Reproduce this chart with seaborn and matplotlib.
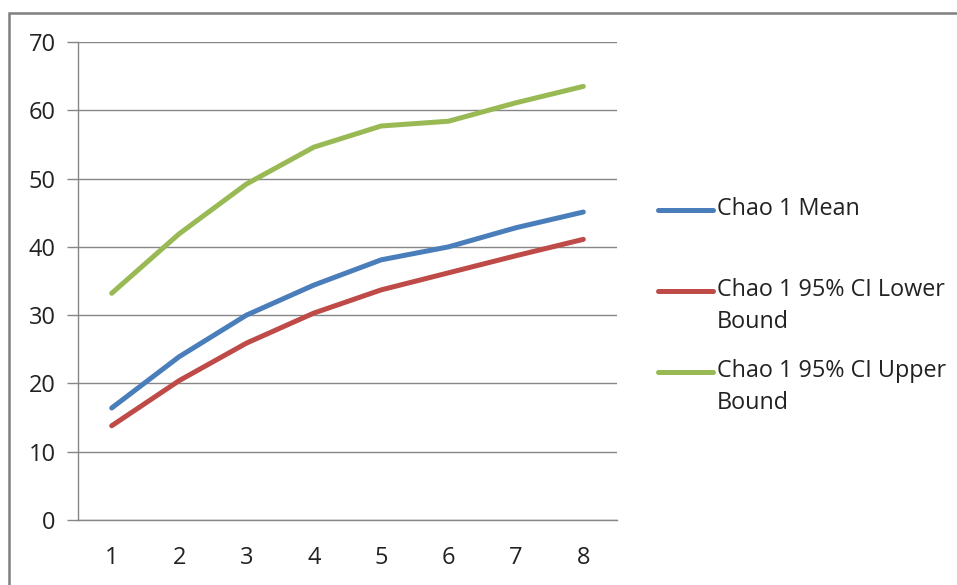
import pandas as pd
import matplotlib
matplotlib.use("Agg")
import matplotlib.pyplot as plt
import seaborn as sns
from matplotlib.patches import Rectangle
from matplotlib.transforms import Affine2D

samples = [1, 2, 3, 4, 5, 6, 7, 8]
chao_mean = [16.4, 23.9, 30.0, 34.4, 38.1, 40.0, 42.8, 45.1]
chao_lower = [13.8, 20.4, 25.9, 30.3, 33.7, 36.2, 38.7, 41.1]
chao_upper = [33.2, 41.9, 49.2, 54.6, 57.7, 58.4, 61.1, 63.5]
# trailing newline keeps every legend entry two lines tall, like the Excel layout
series_names = ["Chao 1 Mean\n ", "Chao 1 95% CI Lower\nBound", "Chao 1 95% CI Upper\nBound"]
colors = ["#4A7EBB", "#BE4B48", "#98B954"]
y_ticks = [0, 10, 20, 30, 40, 50, 60, 70]

sns.set_style("white")
plt.rcParams['font.family'] = ['Open Sans', 'DejaVu Sans']

df = pd.DataFrame({
    "sample": samples * 3,
    "value": chao_mean + chao_lower + chao_upper,
    "series": [series_names[0]] * 8 + [series_names[1]] * 8 + [series_names[2]] * 8,
})

fig = plt.figure(figsize=(9.57, 5.85), dpi=100)
ax = fig.add_axes([78 / 957, 1 - 520 / 585, (617 - 78) / 957, (520 - 42) / 585])

sns.lineplot(data=df, x="sample", y="value", hue="series", palette=colors,
             linewidth=3.6, ax=ax, solid_capstyle="round")

grid_color = "#868686"
ax.set_xlim(0.5, 8.5)
ax.set_ylim(0, 70)
ax.set_yticks(y_ticks)
ax.set_xticks(samples)
ax.set_xticks([s - 0.5 for s in samples] + [8.5], minor=True)
ax.tick_params(axis="x", which="major", length=0, pad=19, labelsize=17, colors="#222222")
ax.tick_params(axis="x", which="minor", length=8, width=1, color=grid_color, direction="out")
ax.tick_params(axis="y", length=8, width=1, color=grid_color, pad=8, labelsize=17,
               labelcolor="#222222", direction="out", left=True)
ax.grid(axis="y", color=grid_color, linewidth=1)
ax.set_axisbelow(True)
for side in ["top", "right"]:
    ax.spines[side].set_visible(False)
for side in ["left", "bottom"]:
    ax.spines[side].set_color(grid_color)
    ax.spines[side].set_linewidth(1)
ax.set_xlabel("")
ax.set_ylabel("")

leg = ax.legend(loc="upper left", bbox_to_anchor=(658 / 957, 1 - 197 / 585),
                bbox_transform=fig.transFigure, frameon=False, fontsize=16.8,
                handlelength=2.35, handletextpad=0.17, labelspacing=1.07, borderpad=0,
                borderaxespad=0)
for t in leg.get_texts():
    t.set_color("#222222")
    t.set_linespacing(1.45)
# move each handle up to the first text line
for line in leg.get_lines():
    line.set_linewidth(3.6)
    line.set_transform(line.get_transform() + Affine2D().translate(0, 16))

fig.patches.append(Rectangle((9 / 957, -0.1), 1.2, 1 - 13 / 585 + 0.1, transform=fig.transFigure,
                             fill=False, edgecolor="#7f7f7f", linewidth=1.8))

fig.savefig("out.png", dpi=100)
